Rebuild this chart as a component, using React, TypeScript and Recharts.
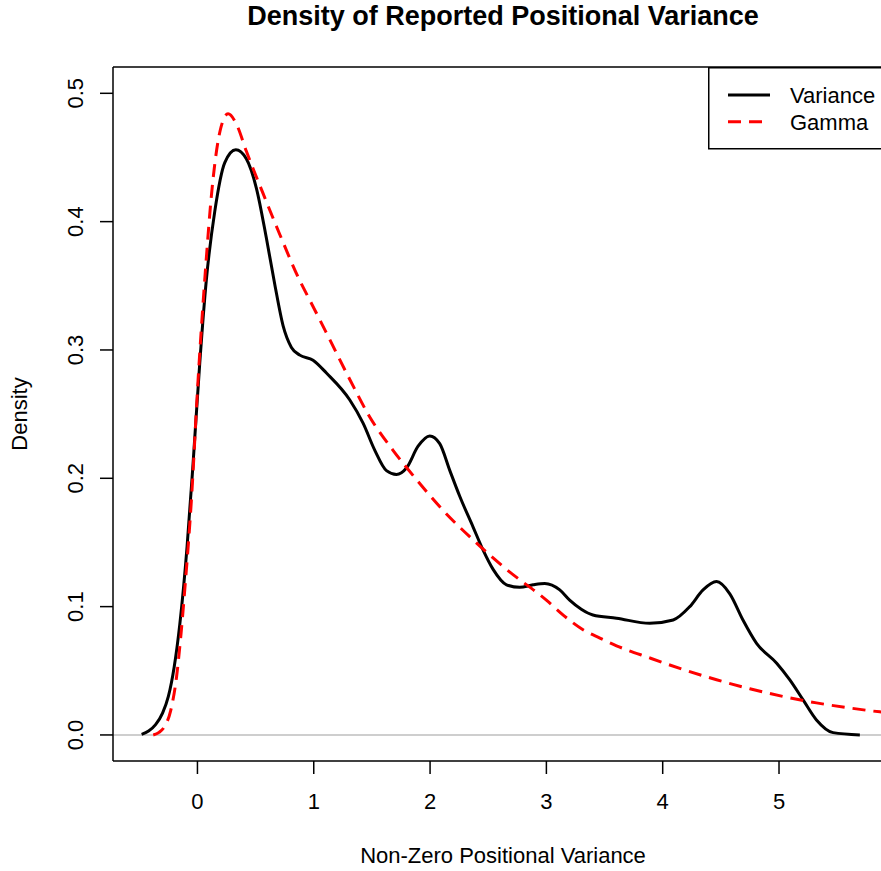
import React from 'react';
import { LineChart, Line, XAxis, YAxis, ReferenceLine, Legend } from 'recharts';

const FONT = '"Liberation Sans", Arial, Helvetica, sans-serif';

const xTicks = [0, 1, 2, 3, 4, 5];
const yTicks = [0, 0.1, 0.2, 0.3, 0.4, 0.5];

const varianceX = [-0.48, -0.42, -0.36, -0.3, -0.25, -0.2, -0.152, -0.089, -0.038, 0.02, 0.077, 0.149, 0.235, 0.33, 0.42, 0.507, 0.593, 0.665, 0.736, 0.808, 0.88, 0.994, 1.109, 1.31, 1.424, 1.524, 1.625, 1.711, 1.797, 1.897, 1.997, 2.083, 2.17, 2.255, 2.37, 2.456, 2.542, 2.657, 2.771, 2.886, 2.986, 3.115, 3.2, 3.3, 3.4, 3.603, 3.889, 4.09, 4.233, 4.347, 4.463, 4.577, 4.69, 4.807, 4.98, 5.093, 5.207, 5.322, 5.465, 5.695];
const varianceY = [0.0005, 0.003, 0.008, 0.017, 0.03, 0.053, 0.086, 0.147, 0.211, 0.29, 0.355, 0.408, 0.446, 0.456, 0.449, 0.426, 0.387, 0.351, 0.319, 0.302, 0.296, 0.292, 0.282, 0.261, 0.243, 0.222, 0.206, 0.203, 0.208, 0.225, 0.233, 0.227, 0.206, 0.186, 0.162, 0.144, 0.129, 0.117, 0.115, 0.117, 0.118, 0.113, 0.105, 0.098, 0.0935, 0.091, 0.087, 0.0896, 0.1, 0.113, 0.1195, 0.11, 0.0896, 0.0714, 0.0559, 0.0429, 0.0273, 0.0117, 0.0018, 0];

const gammaX = [-0.38, -0.33, -0.28, -0.23, -0.18, -0.14, -0.11, -0.052, 0.005, 0.063, 0.134, 0.198, 0.263, 0.335, 0.42, 0.564, 0.708, 0.88, 0.965, 1.138, 1.31, 1.48, 1.68, 1.883, 2.112, 2.37, 2.657, 3.0, 3.15, 3.315, 3.46, 3.603, 3.889, 4.175, 4.463, 4.749, 5.035, 5.322, 5.609, 5.867, 5.98];
const gammaY = [0.0, 0.002, 0.007, 0.019, 0.045, 0.08, 0.112, 0.183, 0.276, 0.355, 0.433, 0.472, 0.484, 0.476, 0.455, 0.422, 0.39, 0.354, 0.339, 0.308, 0.277, 0.248, 0.222, 0.199, 0.175, 0.152, 0.129, 0.105, 0.093, 0.082, 0.0755, 0.0695, 0.06, 0.051, 0.043, 0.036, 0.03, 0.025, 0.021, 0.018, 0.017];

const seriesNames = ['Variance', 'Gamma'];
const titleText = 'Density of Reported Positional Variance';
const xTitle = 'Non-Zero Positional Variance';
const yTitle = 'Density';

const varianceData = varianceX.map((x, i) => ({ x, y: varianceY[i] }));
const gammaData = gammaX.map((x, i) => ({ x, y: gammaY[i] }));

const X_DOMAIN = [-0.726, 5.98];
const Y_DOMAIN = [-0.0203, 0.5205];

const YTick = (props: any) => {
  const { x, y, payload } = props;
  return (
    <text
      x={x}
      y={y}
      transform={`rotate(-90, ${x}, ${y})`}
      textAnchor="middle"
      fontSize={22}
      fill="#000"
      fontFamily={FONT}
    >
      {Number(payload.value).toFixed(1)}
    </text>
  );
};

const XTick = (props: any) => {
  const { x, y, payload } = props;
  return (
    <text x={x} y={y + 31} textAnchor="middle" fontSize={22} fill="#000" fontFamily={FONT}>
      {String(payload.value)}
    </text>
  );
};

const LegendBox = () => (
  <svg width={190} height={84} style={{ display: 'block' }}>
    <rect x={0.75} y={0.75} width={186} height={81} fill="#fff" stroke="#000" strokeWidth={1.5} />
    <line x1={20} y1={28} x2={62} y2={28} stroke="#000" strokeWidth={3} />
    <line x1={20} y1={54.7} x2={62} y2={54.7} stroke="#ff0000" strokeWidth={3} strokeDasharray="13 8" />
    <text x={82} y={36} fontSize={22} fill="#000" fontFamily={FONT}>{seriesNames[0]}</text>
    <text x={82} y={62.6} fontSize={22} fill="#000" fontFamily={FONT}>{seriesNames[1]}</text>
  </svg>
);

export default function App() {
  return (
    <div
      style={{
        position: 'absolute',
        left: 0,
        top: 0,
        width: 881,
        height: 871,
        overflow: 'hidden',
        background: '#fff',
        fontFamily: FONT,
      }}
    >
      <LineChart
        width={900}
        height={871}
        margin={{ top: 67, right: 7, bottom: 50, left: 53 }}
        style={{ position: 'absolute', left: 0, top: 0 }}
      >
        <XAxis
          dataKey="x"
          type="number"
          domain={X_DOMAIN}
          allowDataOverflow
          ticks={xTicks}
          height={60}
          tickSize={13}
          tickMargin={4}
          axisLine={{ stroke: '#000', strokeWidth: 1.5 }}
          tickLine={{ stroke: '#000', strokeWidth: 1.5 }}
          tick={<XTick />}
          label={{
            content: (p: any) => {
              const vb = p.viewBox || {};
              return (
                <text
                  x={vb.x + vb.width / 2}
                  y={863}
                  textAnchor="middle"
                  fontSize={22}
                  fill="#000"
                  fontFamily={FONT}
                >
                  {xTitle}
                </text>
              );
            },
          }}
        />
        <YAxis
          type="number"
          domain={Y_DOMAIN}
          allowDataOverflow
          ticks={yTicks}
          width={60}
          tickSize={13}
          tickMargin={17}
          axisLine={{ stroke: '#000', strokeWidth: 1.5 }}
          tickLine={{ stroke: '#000', strokeWidth: 1.5 }}
          tick={<YTick />}
          label={{
            content: (p: any) => {
              const vb = p.viewBox || {};
              const cy = vb.y + vb.height / 2;
              return (
                <text
                  x={27}
                  y={cy}
                  transform={`rotate(-90, 27, ${cy})`}
                  textAnchor="middle"
                  fontSize={22}
                  fill="#000"
                  fontFamily={FONT}
                >
                  {yTitle}
                </text>
              );
            },
          }}
        />
        <ReferenceLine y={Y_DOMAIN[1]} stroke="#000" strokeWidth={1.5} ifOverflow="visible" />
        <ReferenceLine x={X_DOMAIN[1]} stroke="#000" strokeWidth={1.5} ifOverflow="visible" />
        <ReferenceLine y={0} stroke="#bebebe" strokeWidth={1.5} />
        <Line
          data={varianceData}
          dataKey="y"
          name={seriesNames[0]}
          type="monotone"
          stroke="#000"
          strokeWidth={3}
          dot={false}
          activeDot={false}
          isAnimationActive={false}
        />
        <Line
          data={gammaData}
          dataKey="y"
          name={seriesNames[1]}
          type="monotone"
          stroke="#ff0000"
          strokeWidth={3}
          strokeDasharray="13 8"
          dot={false}
          activeDot={false}
          isAnimationActive={false}
        />
        <Legend
          layout="horizontal"
          verticalAlign="middle"
          align="center"
          content={<LegendBox />}
          wrapperStyle={{ position: 'absolute', left: 708, top: 66.5, width: 190, height: 84, margin: 0 }}
        />
      </LineChart>
      <svg width={881} height={40} style={{ position: 'absolute', left: 0, top: 0 }}>
        <text x={503} y={25} textAnchor="middle" fontSize={27} fontWeight="bold" fill="#000" fontFamily={FONT}>
          {titleText}
        </text>
      </svg>
    </div>
  );
}
